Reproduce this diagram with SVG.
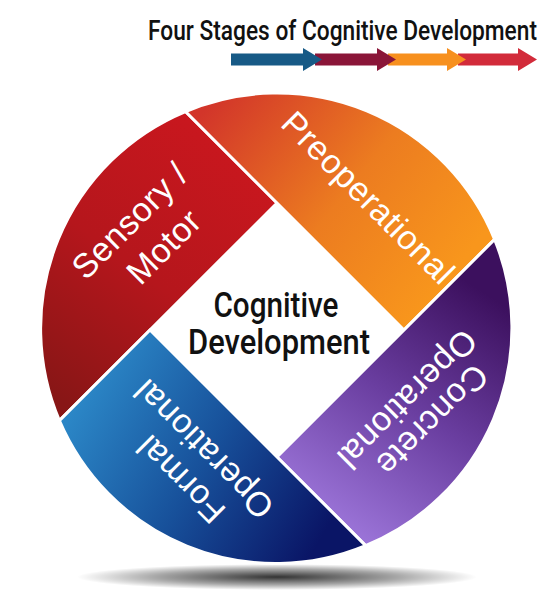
<svg xmlns="http://www.w3.org/2000/svg" width="554" height="600" viewBox="0 0 554 600">
<defs>
<style>
.seg{stroke:#fff;stroke-width:3;stroke-linejoin:miter}
.lbl{font-family:"Liberation Sans",Arial,sans-serif;font-size:34px;fill:#fff;text-anchor:middle;letter-spacing:0.5px}
.ctr{font-family:Roboto,"Liberation Sans",Arial,sans-serif;font-weight:500;font-size:35px;fill:#111;text-anchor:middle}
.ttl{font-family:Roboto,"Liberation Sans",Arial,sans-serif;font-weight:500;font-size:22px;fill:#111}
</style>
<linearGradient id="gRed" gradientUnits="userSpaceOnUse" x1="240" y1="160" x2="60" y2="400">
<stop offset="0" stop-color="#c8171e"/><stop offset="0.5" stop-color="#b5161c"/><stop offset="1" stop-color="#881616"/>
</linearGradient>
<linearGradient id="gOrange" gradientUnits="userSpaceOnUse" x1="200" y1="115" x2="430" y2="300">
<stop offset="0" stop-color="#d2352a"/><stop offset="0.55" stop-color="#ec7c20"/><stop offset="1" stop-color="#f8961c"/>
</linearGradient>
<linearGradient id="gPurple" gradientUnits="userSpaceOnUse" x1="480" y1="290" x2="330" y2="520">
<stop offset="0" stop-color="#3c105e"/><stop offset="0.5" stop-color="#6a3ea0"/><stop offset="1" stop-color="#9b74d8"/>
</linearGradient>
<linearGradient id="gBlue" gradientUnits="userSpaceOnUse" x1="80" y1="400" x2="320" y2="540">
<stop offset="0" stop-color="#2b86c6"/><stop offset="0.5" stop-color="#17509a"/><stop offset="1" stop-color="#0a1566"/>
</linearGradient>
<radialGradient id="gShadow" cx="0.5" cy="0.5" r="0.5">
<stop offset="0" stop-color="#000" stop-opacity="0.8"/><stop offset="0.6" stop-color="#000" stop-opacity="0.35"/><stop offset="1" stop-color="#000" stop-opacity="0"/>
</radialGradient>
</defs>
<rect width="554" height="600" fill="#fff"/>

<g id="title">
<text class="ttl" transform="translate(148,40) scale(1,1.28)" x="0" y="0" textLength="389" lengthAdjust="spacingAndGlyphs">Four Stages of Cognitive Development</text>
</g>

<g id="legend-arrows">
<path d="M458,53.5 H518 V48 L537,59.5 L518,71 V65.5 H458 Z" fill="#d22b3a"/>
<path d="M388,53.5 H447 V48 L466,59.5 L447,71 V65.5 H388 Z" fill="#f7901e"/>
<path d="M315,53.5 H377 V48 L396,59.5 L377,71 V65.5 H315 Z" fill="#8a1538"/>
<path d="M231,53.5 H303 V48 L322,59.5 L303,71 V65.5 H231 Z" fill="#175a86"/>
</g>

<ellipse id="shadow" cx="277" cy="577" rx="200" ry="13" fill="url(#gShadow)"/>

<g id="sensory-motor">
<path class="seg" d="M59.4,420.6 L277,203 L185.5,111.5 A235,235 0 0,0 59.4,420.6 Z" fill="url(#gRed)"/>
<text class="lbl" transform="translate(138,229) rotate(-45)">Sensory /</text>
<text class="lbl" transform="translate(172,255) rotate(-45)">Motor</text>
</g>

<g id="preoperational">
<path class="seg" d="M185.5,111.5 L404,330 L494.6,239.4 A235,235 0 0,0 185.5,111.5 Z" fill="url(#gOrange)"/>
<text class="lbl" transform="translate(360,206) rotate(45)">Preoperational</text>
</g>

<g id="concrete-operational">
<path class="seg" d="M494.6,239.4 L277,457 L365.6,545.6 A235,235 0 0,0 494.6,239.4 Z" fill="url(#gPurple)"/>
<text class="lbl" transform="translate(424,412) rotate(135)">Concrete</text>
<text class="lbl" transform="translate(399,391) rotate(135)">Operational</text>
</g>

<g id="formal-operational">
<path class="seg" d="M365.6,545.6 L150,330 L59.4,420.6 A235,235 0 0,0 365.6,545.6 Z" fill="url(#gBlue)"/>
<text class="lbl" transform="translate(189,471) rotate(225)">Formal</text>
<text class="lbl" transform="translate(212,441) rotate(225)">Operational</text>
</g>

<g id="center">
<text class="ctr" x="276" y="317" textLength="125" lengthAdjust="spacingAndGlyphs">Cognitive</text>
<text class="ctr" x="279" y="354" textLength="182" lengthAdjust="spacingAndGlyphs">Development</text>
</g>
</svg>
